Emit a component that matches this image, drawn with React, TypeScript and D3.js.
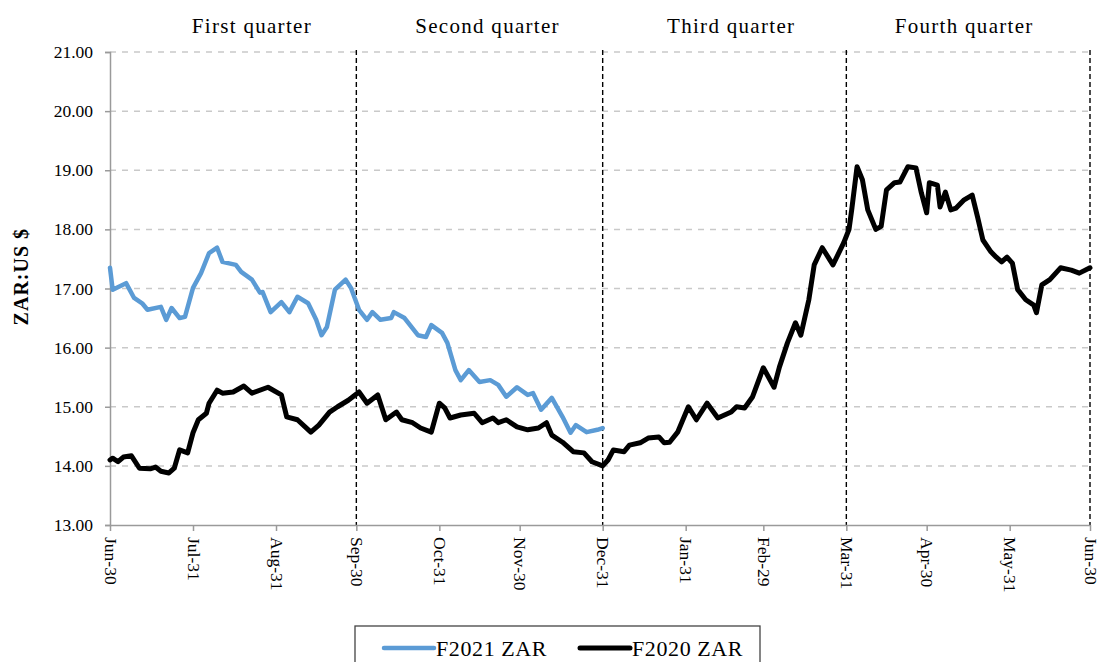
import React, { useRef, useEffect } from "react";
import * as d3 from "d3";

// axis values
const yTicks = [13, 14, 15, 16, 17, 18, 19, 20, 21];
const tickDates = [
  "2019-06-30", "2019-07-31", "2019-08-31", "2019-09-30", "2019-10-31", "2019-11-30", "2019-12-31",
  "2020-01-31", "2020-02-29", "2020-03-31", "2020-04-30", "2020-05-31", "2020-06-30",
];
const quarterEnds = ["2019-09-30", "2019-12-31", "2020-03-31", "2020-06-30"];
const quarterLabels = ["First quarter", "Second quarter", "Third quarter", "Fourth quarter"];
const quarterLabelDates = ["2019-08-22", "2019-11-18", "2020-02-17", "2020-05-14"];

// days after Jun-30 and rand per US$
const f2021Days = [
  0, 1, 6, 9, 12, 14, 19, 21, 23, 26, 28, 31, 34, 37, 40, 42, 47, 49, 53, 56, 57, 60, 64, 67, 70,
  74, 77, 79, 81, 84, 88, 90, 93, 96, 98, 101, 105, 106, 110, 115, 118, 120, 124, 126, 129, 131,
  134, 138, 142, 145, 148, 152, 156, 158, 161, 165, 169, 172, 174, 178, 182, 184,
];
const f2021Values = [
  17.35, 16.98, 17.09, 16.84, 16.75, 16.64, 16.69, 16.47, 16.67, 16.5, 16.52, 17.01, 17.26, 17.6,
  17.69, 17.45, 17.4, 17.28, 17.15, 16.93, 16.94, 16.6, 16.77, 16.6, 16.86, 16.75, 16.47, 16.21,
  16.35, 16.98, 17.15, 17.01, 16.64, 16.47, 16.6, 16.47, 16.5, 16.6, 16.5, 16.21, 16.18, 16.38,
  16.25, 16.08, 15.62, 15.45, 15.62, 15.42, 15.45, 15.37, 15.17, 15.33, 15.2, 15.23, 14.95, 15.15,
  14.83, 14.56, 14.69, 14.57, 14.61, 14.64,
];

const f2020Days = [
  0, 1, 3, 5, 8, 11, 15, 17, 19, 22, 24, 26, 29, 31, 33, 36, 37, 40, 42, 46, 50, 53, 59, 64, 66,
  70, 75, 78, 82, 85, 89, 93, 96, 100, 103, 107, 109, 113, 116, 120, 123, 125, 127, 131, 136, 139,
  143, 145, 148, 152, 156, 160, 163, 165, 169, 173, 177, 180, 184, 186, 188, 192, 194, 198, 201,
  205, 207, 209, 212, 216, 219, 223, 227, 232, 234, 237, 240, 244, 248, 250, 253, 256, 258, 261,
  263, 266, 270, 274, 276, 277, 279, 281, 283, 286, 288, 290, 293, 295, 298, 301, 303, 305, 306,
  309, 310, 312, 314, 316, 319, 322, 324, 326, 329, 331, 333, 335, 337, 339, 342, 345, 346, 348,
  351, 355, 359, 362, 366,
];
const f2020Values = [
  14.1, 14.13, 14.07, 14.15, 14.17, 13.96, 13.95, 13.98, 13.91, 13.88, 13.96, 14.27, 14.22, 14.56,
  14.78, 14.89, 15.06, 15.28, 15.23, 15.25, 15.35, 15.23, 15.33, 15.2, 14.83, 14.78, 14.57, 14.69,
  14.91, 15.0, 15.11, 15.25, 15.06, 15.2, 14.78, 14.91, 14.78, 14.73, 14.64, 14.57, 15.06, 14.98,
  14.81, 14.86, 14.89, 14.73, 14.81, 14.73, 14.78, 14.66, 14.61, 14.64, 14.73, 14.52, 14.4, 14.24,
  14.22, 14.07, 14.0, 14.1, 14.27, 14.24, 14.35, 14.39, 14.47, 14.49, 14.39, 14.4, 14.57, 15.0,
  14.78, 15.06, 14.81, 14.91, 15.0, 14.98, 15.17, 15.66, 15.33, 15.67, 16.08, 16.42, 16.21, 16.81,
  17.4, 17.69, 17.4, 17.77, 18.0, 18.33, 19.06, 18.84, 18.33, 18.0, 18.05, 18.67, 18.79, 18.8,
  19.06, 19.04, 18.62, 18.28, 18.79, 18.75, 18.38, 18.63, 18.33, 18.36, 18.5, 18.58, 18.21, 17.82,
  17.62, 17.53, 17.45, 17.53, 17.43, 16.98, 16.81, 16.72, 16.59, 17.06, 17.15, 17.35, 17.31, 17.26,
  17.35,
];

const seriesNames = ["F2021 ZAR", "F2020 ZAR"];
const seriesColors = ["#5b9bd5", "#000000"];

const FONT = "Liberation Serif";

const Chart = () => {
  const ref = useRef(null);
  const W = 1101,
    H = 662;
  const margin = { top: 52, right: 11, bottom: 137, left: 110 };

  useEffect(() => {
    const svg = d3.select(ref.current);
    svg.selectAll("*").remove();
    const parse = d3.timeParse("%Y-%m-%d");
    const start = parse(tickDates[0]);
    const end = parse(tickDates[tickDates.length - 1]);

    const x = d3.scaleTime().domain([start, end]).range([margin.left, W - margin.right]);
    const y = d3
      .scaleLinear()
      .domain([13, 21])
      .range([H - margin.bottom, margin.top]);

    // horizontal grid
    svg
      .append("g")
      .selectAll("line")
      .data(yTicks.slice(1))
      .join("line")
      .attr("x1", margin.left)
      .attr("x2", W - margin.right)
      .attr("y1", (d) => y(d))
      .attr("y2", (d) => y(d))
      .attr("stroke", "#c9c9c9")
      .attr("stroke-width", 1.5)
      .attr("stroke-dasharray", "6,6");

    // quarter separators
    svg
      .append("g")
      .selectAll("line")
      .data(quarterEnds.map(parse))
      .join("line")
      .attr("x1", (d) => x(d))
      .attr("x2", (d) => x(d))
      .attr("y1", y(21) - 2)
      .attr("y2", y(13))
      .attr("stroke", "#000")
      .attr("stroke-width", 1.4)
      .attr("stroke-dasharray", "5,3");

    // axes
    const yAxis = (g) =>
      g
        .attr("transform", `translate(${margin.left},0)`)
        .call(d3.axisLeft(y).tickValues(yTicks).tickFormat(d3.format(".2f")).tickSize(5).tickPadding(12))
        .attr("font-family", FONT)
        .attr("font-size", 17.5)
        .call((g) => g.selectAll("line, path").attr("stroke", "#9a9a9a").attr("stroke-width", 1.5))
        .call((g) => g.selectAll("text").attr("fill", "#000"));

    const xAxis = (g) =>
      g
        .attr("transform", `translate(0,${H - margin.bottom})`)
        .call(
          d3
            .axisBottom(x)
            .tickValues(tickDates.map(parse))
            .tickFormat(d3.timeFormat("%b-%d"))
            .tickSize(6)
            .tickSizeOuter(0)
        )
        .attr("font-family", FONT)
        .attr("font-size", 17.5)
        .call((g) => g.selectAll("line, path").attr("stroke", "#9a9a9a").attr("stroke-width", 1.5))
        .call((g) =>
          g
            .selectAll("text")
            .attr("fill", "#000")
            .attr("text-anchor", "start")
            .attr("dy", null)
            .attr("dominant-baseline", "central")
            .attr("y", 0)
            .attr("transform", "translate(0,12) rotate(90)")
        );

    svg.append("g").call(yAxis);
    svg.append("g").call(xAxis);

    // lines
    const line = d3
      .line()
      .x((d) => x(d[0]))
      .y((d) => y(d[1]));

    const series = [
      { days: f2021Days, values: f2021Values, width: 4.5 },
      { days: f2020Days, values: f2020Values, width: 5 },
    ];
    series.forEach((s, i) => {
      const pts = s.days.map((d, j) => [d3.timeDay.offset(start, d), s.values[j]]);
      svg
        .append("path")
        .datum(pts)
        .attr("fill", "none")
        .attr("stroke", seriesColors[i])
        .attr("stroke-width", s.width)
        .attr("stroke-linejoin", "round")
        .attr("stroke-linecap", "round")
        .attr("d", line);
    });

    // quarter labels
    svg
      .append("g")
      .selectAll("text")
      .data(quarterLabels)
      .join("text")
      .attr("x", (d, i) => x(parse(quarterLabelDates[i])))
      .attr("y", 33)
      .attr("text-anchor", "middle")
      .attr("font-family", FONT)
      .attr("font-size", 21)
      .attr("letter-spacing", 1.3)
      .text((d) => d);

    // y title
    svg
      .append("text")
      .attr("transform", `translate(28,${y(17.2)}) rotate(-90)`)
      .attr("text-anchor", "middle")
      .attr("font-family", FONT)
      .attr("font-weight", "bold")
      .attr("font-size", 20)
      .attr("letter-spacing", 1)
      .text("ZAR:US $");

    // legend
    const lg = svg.append("g").attr("transform", "translate(355,626)");
    lg.append("rect")
      .attr("width", 405)
      .attr("height", 60)
      .attr("fill", "#fff")
      .attr("stroke", "#444")
      .attr("stroke-width", 1.3);
    const items = lg
      .selectAll("g.item")
      .data(seriesNames)
      .join("g")
      .attr("transform", (d, i) => `translate(${29 + i * 196},22)`);
    items
      .append("line")
      .attr("x1", 0)
      .attr("x2", 50)
      .attr("stroke", (d, i) => seriesColors[i])
      .attr("stroke-width", (d, i) => (i === 0 ? 4.5 : 5))
      .attr("stroke-linecap", "round");
    items
      .append("text")
      .attr("x", 52)
      .attr("y", 8)
      .attr("font-family", FONT)
      .attr("font-size", 22)
      .attr("letter-spacing", 0.6)
      .text((d) => d);
  }, []);

  return <svg ref={ref} width={W} height={H} style={{ display: "block" }}></svg>;
};

export default function App() {
  return (
    <div style={{ position: "absolute", left: 0, top: 0, background: "#fff" }}>
      <Chart />
    </div>
  );
}
